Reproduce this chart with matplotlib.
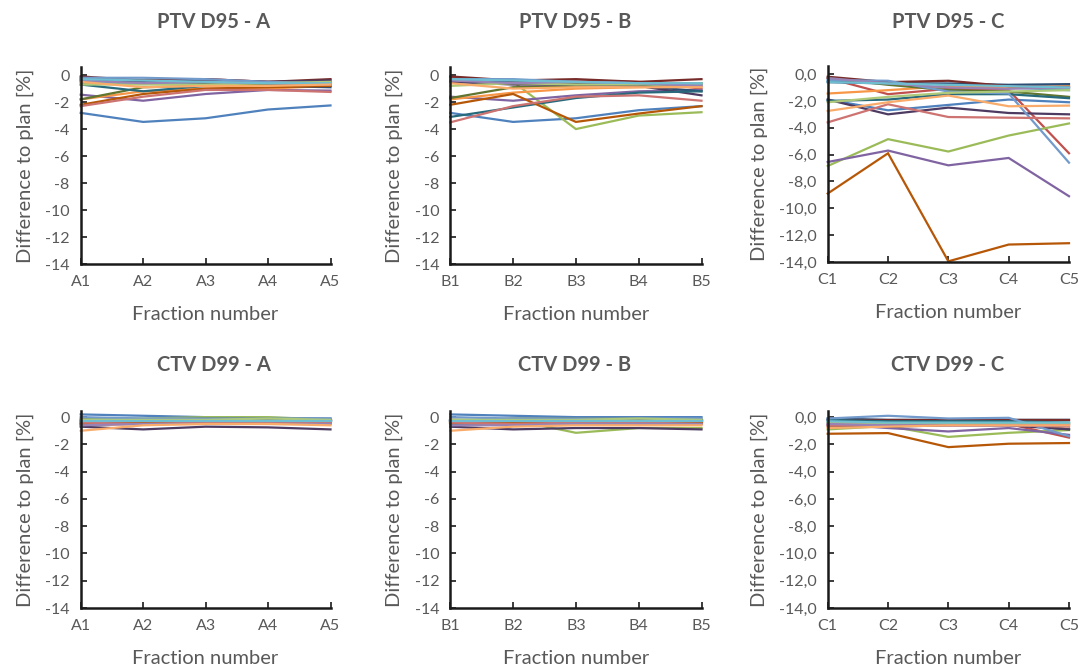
import matplotlib
matplotlib.use("Agg")
import matplotlib.pyplot as plt

plt.rcParams["font.family"] = ["Lato", "DejaVu Sans"]

GRAY = "#595959"

# Office 2010 series colours (accents, darker, lighter)
colors = ["#4F81BD", "#C0504D", "#9BBB59", "#8064A2", "#4BACC6", "#F79646",
          "#2C4D75", "#772C2A", "#5F7530", "#4D3B62", "#276A7C", "#B65708",
          "#729ACA", "#CD7371", "#AFC97A", "#9983B5", "#6FBDD1", "#F9AB6B"]

fractions_a = ["A1", "A2", "A3", "A4", "A5"]
fractions_b = ["B1", "B2", "B3", "B4", "B5"]
fractions_c = ["C1", "C2", "C3", "C4", "C5"]

ptv_a = [
    [-2.8, -3.47, -3.2, -2.55, -2.25],
    [-0.2, -0.5, -0.3, -0.5, -0.5],
    [-0.6, -0.6, -0.6, -0.6, -0.6],
    [-1.45, -1.9, -1.4, -1.1, -1.15],
    [-0.5, -0.6, -0.7, -0.7, -0.7],
    [-1.8, -1.2, -1.0, -1.0, -0.8],
    [-0.4, -0.4, -0.6, -0.8, -0.9],
    [-0.1, -0.4, -0.3, -0.5, -0.3],
    [-1.8, -0.9, -0.8, -0.7, -0.6],
    [-0.3, -0.5, -0.4, -0.5, -0.4],
    [-0.7, -1.2, -0.8, -0.8, -0.7],
    [-2.2, -1.4, -1.0, -0.9, -0.8],
    [-0.2, -0.2, -0.3, -0.5, -0.6],
    [-2.3, -1.6, -1.1, -1.1, -1.25],
    [-0.7, -0.7, -0.7, -0.6, -0.5],
    [-0.4, -0.6, -0.5, -0.6, -0.7],
    [-0.3, -0.4, -0.5, -0.6, -0.6],
    [-0.5, -0.9, -0.8, -0.8, -0.7],
]

ptv_b = [
    [-2.8, -3.47, -3.2, -2.6, -2.3],
    [-0.2, -0.5, -0.4, -0.5, -1.0],
    [-0.5, -0.5, -4.0, -3.0, -2.75],
    [-1.6, -1.9, -1.5, -1.2, -1.1],
    [-0.5, -0.6, -0.7, -0.7, -0.7],
    [-1.8, -1.3, -1.0, -0.9, -0.8],
    [-0.4, -0.5, -0.6, -0.8, -1.2],
    [-0.1, -0.4, -0.3, -0.5, -0.3],
    [-1.7, -0.9, -0.8, -0.7, -0.6],
    [-0.5, -0.7, -0.7, -0.8, -1.5],
    [-3.1, -2.4, -1.7, -1.3, -1.2],
    [-2.2, -1.4, -3.47, -2.85, -2.3],
    [-0.3, -0.3, -0.5, -0.6, -0.7],
    [-3.5, -2.3, -1.6, -1.5, -1.9],
    [-0.8, -0.6, -0.7, -0.7, -0.6],
    [-0.4, -0.6, -0.5, -0.6, -0.8],
    [-0.3, -0.4, -0.5, -0.6, -0.6],
    [-0.6, -1.0, -0.9, -0.9, -0.9],
]

ptv_c = [
    [-1.9, -2.7, -2.3, -1.9, -2.1],
    [-0.3, -1.5, -1.1, -1.2, -5.9],
    [-6.85, -4.85, -5.77, -4.58, -3.68],
    [-6.55, -5.7, -6.8, -6.25, -9.1],
    [-0.5, -0.6, -0.8, -1.0, -1.2],
    [-1.45, -1.2, -0.9, -1.0, -0.9],
    [-0.6, -0.7, -0.7, -0.8, -0.75],
    [-0.2, -0.6, -0.5, -0.9, -1.0],
    [-0.3, -0.8, -1.2, -1.3, -1.7],
    [-1.9, -3.0, -2.5, -2.9, -3.0],
    [-2.0, -1.9, -1.5, -1.5, -1.8],
    [-8.9, -5.9, -13.95, -12.7, -12.6],
    [-0.45, -0.5, -1.3, -1.45, -6.6],
    [-3.6, -2.25, -3.2, -3.25, -3.3],
    [-2.1, -1.7, -1.4, -1.3, -1.2],
    [-0.3, -0.7, -1.0, -1.1, -1.0],
    [-0.6, -0.7, -0.8, -0.9, -1.0],
    [-2.75, -2.1, -1.6, -2.4, -2.35],
]

ctv_a = [
    [0.2, 0.1, 0.0, -0.05, -0.1],
    [-0.3, -0.3, -0.3, -0.3, -0.3],
    [-0.1, -0.1, 0.0, 0.0, -0.2],
    [-0.5, -0.4, -0.4, -0.4, -0.4],
    [-0.3, -0.3, -0.3, -0.3, -0.3],
    [-0.6, -0.5, -0.5, -0.5, -0.5],
    [-0.2, -0.2, -0.2, -0.2, -0.2],
    [-0.2, -0.3, -0.2, -0.2, -0.2],
    [-0.3, -0.2, -0.1, -0.1, -0.2],
    [-0.7, -0.9, -0.7, -0.75, -0.9],
    [-0.4, -0.4, -0.3, -0.3, -0.3],
    [-0.5, -0.4, -0.4, -0.4, -0.4],
    [0.0, -0.1, -0.1, -0.1, -0.1],
    [-0.4, -0.5, -0.4, -0.4, -0.4],
    [-0.2, -0.2, -0.2, -0.1, -0.2],
    [-0.6, -0.5, -0.5, -0.5, -0.5],
    [-0.3, -0.3, -0.3, -0.3, -0.3],
    [-1.0, -0.6, -0.5, -0.5, -0.6],
]

ctv_b = [
    [0.2, 0.1, 0.0, 0.0, 0.0],
    [-0.3, -0.3, -0.3, -0.3, -0.3],
    [-0.2, -0.2, -1.15, -0.8, -0.8],
    [-0.5, -0.4, -0.4, -0.4, -0.4],
    [-0.3, -0.3, -0.3, -0.3, -0.3],
    [-0.6, -0.5, -0.5, -0.5, -0.5],
    [-0.2, -0.2, -0.2, -0.2, -0.2],
    [-0.2, -0.3, -0.2, -0.2, -0.2],
    [-0.3, -0.1, -0.1, -0.1, -0.2],
    [-0.7, -0.9, -0.8, -0.8, -0.9],
    [-0.5, -0.4, -0.3, -0.3, -0.3],
    [-0.4, -0.4, -0.4, -0.4, -0.4],
    [0.0, -0.1, -0.1, -0.1, -0.1],
    [-0.4, -0.5, -0.4, -0.4, -0.5],
    [-0.2, -0.2, -0.2, -0.1, -0.2],
    [-0.6, -0.6, -0.5, -0.5, -0.5],
    [-0.3, -0.3, -0.3, -0.3, -0.3],
    [-1.0, -0.7, -0.6, -0.6, -0.6],
]

ctv_c = [
    [-0.2, -0.4, -0.3, -0.3, -0.9],
    [-0.2, -0.3, -0.3, -0.5, -1.5],
    [-0.9, -0.65, -1.45, -1.15, -0.95],
    [-0.5, -0.8, -1.05, -0.8, -1.3],
    [-0.3, -0.3, -0.4, -0.4, -0.5],
    [-0.7, -0.6, -0.5, -0.5, -0.5],
    [-0.1, -0.2, -0.2, -0.2, -0.2],
    [-0.2, -0.2, -0.2, -0.2, -0.2],
    [-0.4, -0.5, -0.5, -0.5, -0.9],
    [-0.6, -0.7, -0.6, -0.6, -0.9],
    [-0.2, -0.3, -0.3, -0.3, -0.4],
    [-1.22, -1.17, -2.2, -1.95, -1.9],
    [-0.1, 0.1, -0.1, -0.05, -1.4],
    [-0.6, -0.6, -0.6, -0.6, -0.7],
    [-0.4, -0.4, -0.4, -0.4, -0.4],
    [-0.5, -0.6, -0.6, -0.6, -0.6],
    [-0.3, -0.4, -0.4, -0.4, -0.4],
    [-0.8, -0.7, -0.6, -0.6, -0.6],
]

yticks = [0, -2, -4, -6, -8, -10, -12, -14]

W, H = 1079, 670
fig = plt.figure(figsize=(W / 100, H / 100), dpi=100)

# (title, series, categories, comma labels, axis left px, right px, y of -14 px, top px, title x px, title y px)
panels = [
    ("PTV D95 - A", ptv_a, fractions_a, False, 80.7, 330.5, 264, 67, 214, 22),
    ("PTV D95 - B", ptv_b, fractions_b, False, 450.3, 701.5, 264, 67, 575, 22),
    ("PTV D95 - C", ptv_c, fractions_c, True, 827.7, 1069, 262, 66, 948, 22),
    ("CTV D99 - A", ctv_a, fractions_a, False, 80.7, 330.5, 608, 411, 214, 365),
    ("CTV D99 - B", ctv_b, fractions_b, False, 450.3, 701.5, 608, 411, 575, 365),
    ("CTV D99 - C", ctv_c, fractions_c, True, 827.7, 1069, 608, 411, 948, 365),
]

for title, series, cats, comma, x0, x1, ybot, ytop, tx, ty in panels:
    ax = fig.add_axes([x0 / W, 1 - ybot / H, (x1 - x0) / W, (ybot - ytop) / H])
    ax.set_facecolor("none")
    for vals, c in zip(series, colors):
        ax.plot(range(len(cats)), vals, color=c, lw=1.6, solid_joinstyle="miter", clip_on=False)
    top = 0.6 if ybot < 300 else 0.45
    ax.set_ylim(-14, top)
    ax.set_xlim(0, len(cats) - 1)
    ax.set_xticks(range(len(cats)))
    ax.set_xticklabels(cats)
    ax.set_yticks(yticks)
    if comma:
        ax.set_yticklabels([f"{v:.1f}".replace(".", ",") for v in yticks])
    else:
        ax.set_yticklabels([str(v) for v in yticks])
    for s in ("top", "right"):
        ax.spines[s].set_visible(False)
    for s in ("left", "bottom"):
        ax.spines[s].set_color("#1a1a1a")
        ax.spines[s].set_linewidth(1.8)
    ax.tick_params(axis="both", direction="in", length=4, width=1.2, color="#1a1a1a",
                   labelsize=11.5, labelcolor=GRAY)
    ax.tick_params(axis="x", pad=8)
    ax.tick_params(axis="y", pad=8)
    ax.set_xlabel("Fraction number", fontsize=14.5, color=GRAY, labelpad=12)
    ax.set_ylabel("Difference to plan [%]", fontsize=14.5, color=GRAY, labelpad=8)
    fig.text(tx / W, 1 - ty / H, title, ha="center", va="center",
             fontsize=14.5, fontweight="bold", color=GRAY)

fig.savefig("out.png", dpi=100, facecolor="white")
